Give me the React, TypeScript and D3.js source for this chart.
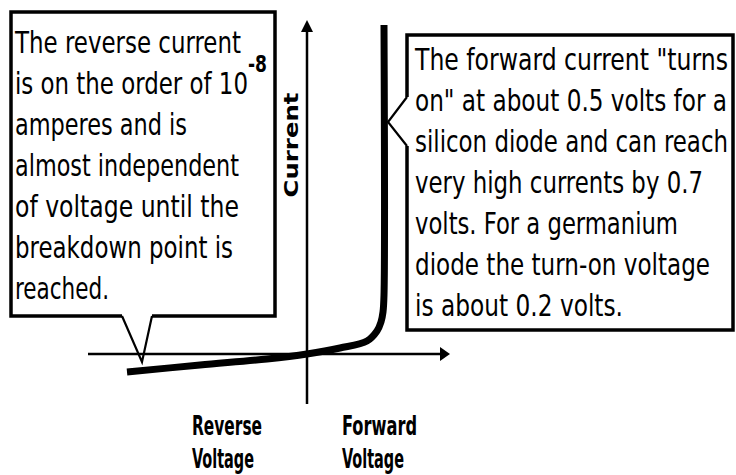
import React from "react";
import * as d3 from "d3";

// ---- data ----
const voltage = [-3.6, -2.14, -0.8, 0, 0.66, 1.2, 1.4, 1.48, 1.52, 1.54, 1.54];
const current = [-0.36, -0.22, -0.1, 0, 0.12, 0.26, 0.46, 0.64, 0.84, 1.18, 6.58];

const leftNote = [
  "The reverse current",
  "is on the order of 10",
  "amperes and is",
  "almost independent",
  "of voltage until the",
  "breakdown point is",
  "reached.",
];
const exponent = "-8";
const rightNote = [
  "The forward current \"turns",
  "on\" at about 0.5 volts for a",
  "silicon diode and can reach",
  "very high currents by 0.7",
  "volts. For a germanium",
  "diode the turn-on voltage",
  "is about 0.2 volts.",
];
const yAxisLabel = "Current";
const reverseLabel = ["Reverse", "Voltage"];
const forwardLabel = ["Forward", "Voltage"];

// ---- layout ----
const W = 736;
const H = 475;
const leftWidths = [226, 233, 172, 224, 224, 218, 94];
const rightWidths = [313, 312, 313, 288, 263, 295, 208];
const FONT = "'DejaVu Sans Condensed', 'DejaVu Sans', sans-serif";

export default function App() {
  const x = d3.scaleLinear().domain([-4.38, 2.86]).range([88, 450]);
  const y = d3.scaleLinear().domain([-1, 6.68]).range([404, 20]);
  const [x0, x1] = x.domain();
  const [y0, y1] = y.domain();

  const pts: [number, number][] = voltage.map((v, i) => [v, current[i]]);
  const line = d3
    .line<[number, number]>()
    .x((d) => x(d[0]))
    .y((d) => y(d[1]))
    .curve(d3.curveCatmullRom.alpha(0.5));

  const ox = x(0);
  const oy = y(0);
  const xEnd = x(x1);
  const yTop = y(y1);

  // left box
  const L = { l: 11, t: 12, r: 275, b: 316 };
  const lp = { a: 122, tipX: 142, tipY: 362, c: 152 };
  // right box
  const R = { l: 407, t: 35, r: 733, b: 330 };
  const rp = { a: 97, tipX: 388, tipY: 122, c: 146 };

  return (
    <svg
      width={W}
      height={H}
      viewBox={`0 0 ${W} ${H}`}
      style={{ position: "absolute", left: 0, top: 0, background: "#fff" }}
    >
      <rect x={0} y={0} width={W} height={H} fill="#fff" />

      {/* axes */}
      <line x1={ox} y1={y(y0)} x2={ox} y2={yTop + 10} stroke="#000" strokeWidth={2.5} />
      <path d={`M${ox},${yTop} L${ox - 6},${yTop + 12} L${ox + 6},${yTop + 12} Z`} fill="#000" />
      <line x1={x(x0)} y1={oy} x2={xEnd - 8} y2={oy} stroke="#000" strokeWidth={2.5} />
      <path d={`M${xEnd},${oy} L${xEnd - 10},${oy - 7} L${xEnd - 10},${oy + 7} Z`} fill="#000" />

      {/* diode curve */}
      <path d={line(pts) || ""} fill="none" stroke="#000" strokeWidth={7} strokeLinejoin="round" />

      {/* left callout */}
      <path
        d={`M${lp.a},${L.b} H${L.l} V${L.t} H${L.r} V${L.b} H${lp.c}`}
        fill="none"
        stroke="#000"
        strokeWidth={3.5}
      />
      <path
        d={`M${lp.a},${L.b} L${lp.tipX},${lp.tipY} L${lp.c},${L.b}`}
        fill="none"
        stroke="#000"
        strokeWidth={2.2}
      />
      <g fontFamily={FONT} fontSize={31} fill="#000">
        {leftNote.map((t, i) => (
          <text
            key={i}
            x={15}
            y={53 + i * 41}
            textLength={leftWidths[i]}
            lengthAdjust="spacingAndGlyphs"
          >
            {t}
          </text>
        ))}
        <text x={248} y={72} fontSize={23} fontWeight="bold" textLength={19} lengthAdjust="spacingAndGlyphs">
          {exponent}
        </text>
      </g>

      {/* right callout */}
      <path
        d={`M${R.l},${rp.a} V${R.t} H${R.r} V${R.b} H${R.l} V${rp.c}`}
        fill="none"
        stroke="#000"
        strokeWidth={3.5}
      />
      <path
        d={`M${R.l},${rp.a} L${rp.tipX},${rp.tipY} L${R.l},${rp.c}`}
        fill="none"
        stroke="#000"
        strokeWidth={2.2}
      />
      <g fontFamily={FONT} fontSize={31} fill="#000">
        {rightNote.map((t, i) => (
          <text
            key={i}
            x={415}
            y={70 + i * 41}
            textLength={rightWidths[i]}
            lengthAdjust="spacingAndGlyphs"
          >
            {t}
          </text>
        ))}
      </g>

      {/* axis labels */}
      <text
        transform={`translate(298,145) rotate(-90)`}
        textAnchor="middle"
        fontFamily={FONT}
        fontWeight="bold"
        fontSize={19}
        textLength={105}
        lengthAdjust="spacingAndGlyphs"
      >
        {yAxisLabel}
      </text>
      <g fontFamily={FONT} fontWeight="bold" fontSize={26} fill="#000">
        <text x={192} y={435} textLength={70} lengthAdjust="spacingAndGlyphs">{reverseLabel[0]}</text>
        <text x={192} y={468} textLength={62} lengthAdjust="spacingAndGlyphs">{reverseLabel[1]}</text>
        <text x={342} y={435} textLength={75} lengthAdjust="spacingAndGlyphs">{forwardLabel[0]}</text>
        <text x={342} y={468} textLength={62} lengthAdjust="spacingAndGlyphs">{forwardLabel[1]}</text>
      </g>
    </svg>
  );
}
